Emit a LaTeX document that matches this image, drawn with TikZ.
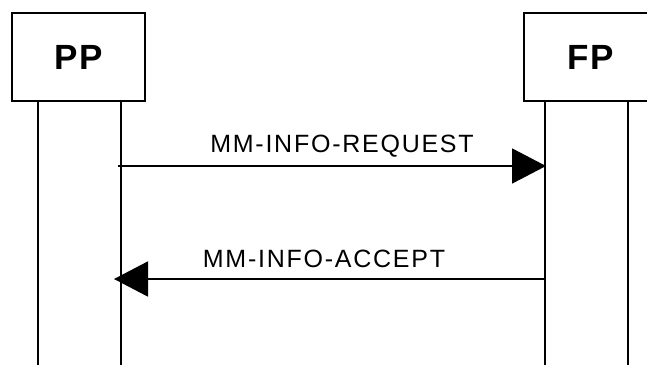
\documentclass[tikz,border=0pt]{standalone}
\usepackage{fontspec}
\setmainfont{Liberation Sans}
\newfontfamily\msgfont[LetterSpace=7]{Liberation Sans}
\newfontfamily\entfont[LetterSpace=6]{Liberation Sans}
\usetikzlibrary{arrows.meta}

\begin{document}
\begin{tikzpicture}[x=1pt,y=-1pt,>={Triangle[length=34pt,width=35pt]},line width=1.8pt]
\tikzstyle{ent}=[rectangle,draw,minimum width=133pt,minimum height=88pt,inner sep=0pt,font=\entfont\fontsize{35}{40}\selectfont\bfseries]
\tikzstyle{msg}=[inner sep=0pt,anchor=base,font=\msgfont\fontsize{25}{30}\selectfont]
\useasboundingbox (0,0) rectangle (647,365);
\node[ent] (pp) at (78.5,57) {PP};
\node[ent] (fp) at (590.5,57) {FP};
% lifelines
\coordinate (ppa) at (38,365);
\coordinate (ppb) at (121,365);
\coordinate (fpa) at (545,365);
\coordinate (fpb) at (628,365);
\draw (pp.south -| ppa) -- (ppa);
\draw (pp.south -| ppb) -- (ppb);
\draw (fp.south -| fpa) -- (fpa);
\draw (fp.south -| fpb) -- (fpb);
% messages
\coordinate (req1) at (118,166);
\coordinate (req2) at (546,166);
\draw[->] (req1) -- (req2);
\node[msg] (req) at (342,152) {MM-INFO-REQUEST};
\coordinate (acc1) at (545,279);
\coordinate (acc2) at (114,279);
\draw[->] (acc1) -- (acc2);
\node[msg] (acc) at (324,267) {MM-INFO-ACCEPT};
\end{tikzpicture}
\end{document}
